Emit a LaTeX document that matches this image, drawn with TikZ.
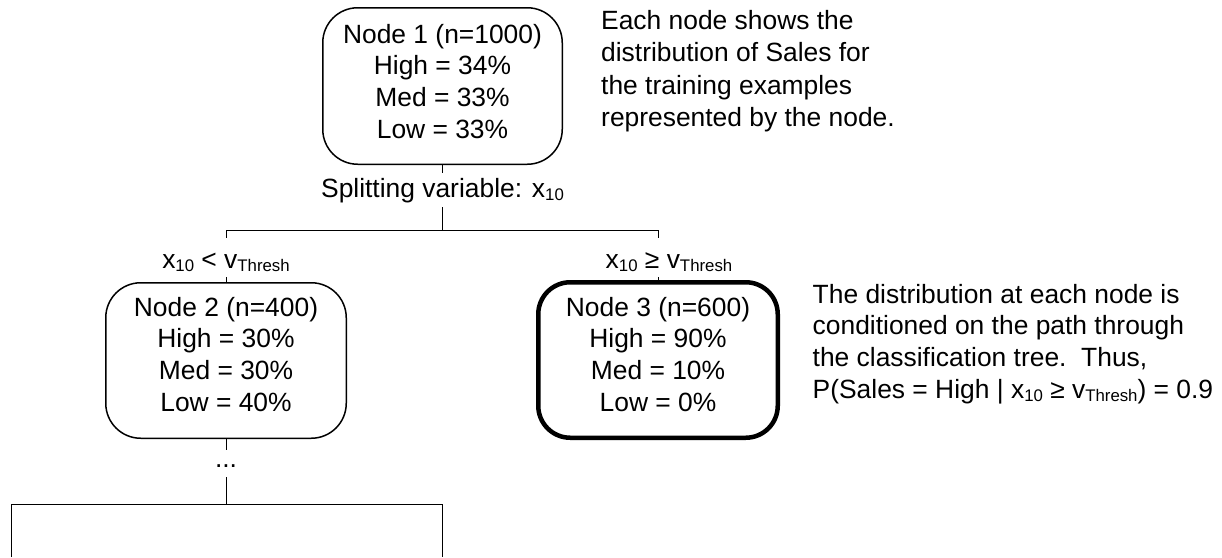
\documentclass[tikz,border=0pt]{standalone}
\usepackage{fontspec}
\setmainfont{Liberation Sans}
\newcommand\subt[1]{\raisebox{-3pt}{\fontsize{16.8pt}{16.8pt}\selectfont #1}}
\begin{document}
\begin{tikzpicture}[x=1pt, y=-1pt,
  every node/.style={font=\fontsize{26.4pt}{31.7pt}\selectfont, inner sep=0pt},
  box/.style={draw, rounded corners=35pt, line width=1.5pt},
  boldbox/.style={draw, rounded corners=32pt, line width=4.5pt},
  txt/.style={align=center},
  note/.style={align=left, anchor=west},
  lbl/.style={anchor=base},
  conn/.style={line width=1pt}
]
\path[use as bounding box] (0,0) rectangle (1222,557);

% boxes
\node[box, minimum width=239.5pt, minimum height=156.5pt] (n1) at (442.5,86) {};
\node[box, minimum width=240.5pt, minimum height=155.5pt] (n2) at (226,360.5) {};
\node[boldbox, minimum width=239.5pt, minimum height=155.5pt] (n3) at (658,360) {};

% box texts
\node[txt] (n1t) at (442.5,81.3) {Node 1 (n=1000)\\High = 34\%\\Med = 33\%\\Low = 33\%};
\node[txt] (n2t) at (226,354.4) {Node 2 (n=400)\\High = 30\%\\Med = 30\%\\Low = 40\%};
\node[txt] (n3t) at (658,354.4) {Node 3 (n=600)\\High = 90\%\\Med = 10\%\\Low = 0\%};

% labels
\node[lbl, text height=24pt, text depth=10pt] (split) at (442.5,197) {Splitting variable: x\subt{10}};
\node[lbl, text height=30pt, text depth=9pt] (lblL) at (226,268) {x\subt{10} < v\subt{Thresh}};
\node[lbl, text height=30pt, text depth=9pt] (lblR) at (669,268) {x\subt{10} ≥ v\subt{Thresh}};
\node[lbl, text height=17pt, text depth=10pt] (dots) at (226,467) {...};

% notes
\node[note, font=\fontsize{26.4pt}{32.5pt}\selectfont] (note1) at (601,71.2) {Each node shows the\\distribution of Sales for\\the training examples\\represented by the node.};
\node[note] (note2) at (812.5,344) {The distribution at each node is\\conditioned on the path through\\the classification tree.\ \ Thus,\\P(Sales = High | x\subt{10} ≥ v\subt{Thresh}) = 0.9};

% junction coordinates
\coordinate (j1) at (442.5,230);
\coordinate (jl) at (226,230);
\coordinate (jr) at (658,230);
\coordinate (j2) at (226,504);
\coordinate (bl) at (11,504);
\coordinate (br) at (442,504);
\coordinate (bl2) at (11,557);
\coordinate (br2) at (442,557);

% connectors
\draw[conn] (n1.south) -- (split.north);
\draw[conn] (split.south) -- (j1);
\draw[conn] (lblL.north) -- (jl) -- (jr) -- (jr |- lblR.north);
\draw[conn] (lblL.south) -- (n2.north);
\draw[conn] (n3.north |- lblR.south) -- (n3.north);
\draw[conn] (n2.south) -- (dots.north);
\draw[conn] (dots.south) -- (j2);
\draw[conn] (bl2) -- (bl) -- (br) -- (br2);
\end{tikzpicture}
\end{document}
